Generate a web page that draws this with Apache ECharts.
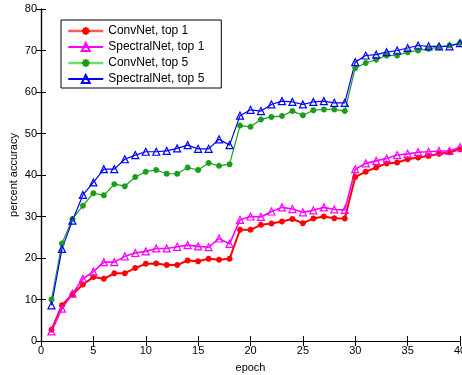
<!DOCTYPE html>
<html>
<head>
<meta charset="utf-8">
<script src="https://cdn.jsdelivr.net/npm/echarts@6/dist/echarts.min.js"></script>
<style>
html,body{margin:0;padding:0;background:#fff;}
#chart{width:462px;height:375px;}
</style>
</head>
<body>
<div id="chart"></div>
<script>
var epochs = [1,2,3,4,5,6,7,8,9,10,11,12,13,14,15,16,17,18,19,20,21,22,23,24,25,26,27,28,29,30,31,32,33,34,35,36,37,38,39,40];
var convTop1 = [2.7,8.6,11.2,13.6,15.4,15.0,16.3,16.3,17.6,18.6,18.7,18.3,18.3,19.4,19.2,19.8,19.6,19.8,26.8,26.8,28.0,28.3,28.8,29.4,28.4,29.5,30.0,29.6,29.5,39.5,40.8,41.8,42.8,43.0,43.8,44.2,44.6,45.1,45.5,46.2];
var spectralTop1 = [2.3,7.8,11.4,15.0,16.7,19.0,19.0,20.4,21.2,21.6,22.3,22.3,22.7,23.1,22.8,22.6,24.7,23.4,29.2,30.0,29.9,31.2,32.2,31.8,31.0,31.5,32.2,31.7,31.6,41.4,42.8,43.4,44.0,44.8,45.1,45.5,45.6,45.8,45.8,46.7];
var convTop5 = [10.0,23.5,29.4,32.6,35.6,35.1,37.8,37.3,39.5,40.8,41.2,40.3,40.3,41.8,41.2,42.9,42.2,42.6,51.9,51.6,53.4,54.0,54.2,55.4,54.4,55.6,55.8,55.8,55.4,65.8,67.0,67.8,68.8,68.8,69.6,70.0,70.4,70.8,71.2,71.8];
var spectralTop5 = [8.6,22.2,29.0,35.2,38.2,41.4,41.4,43.8,44.8,45.6,45.6,45.8,46.4,47.2,46.3,46.3,48.6,47.2,54.3,55.7,55.4,57.0,57.8,57.6,57.0,57.6,57.8,57.4,57.4,67.2,68.8,69.0,69.6,70.0,70.6,71.2,71.0,71.0,71.0,71.8];
var seriesNames = ['ConvNet, top 1','SpectralNet, top 1','ConvNet, top 5','SpectralNet, top 5'];
var xLabel = 'epoch';
var yLabel = 'percent accuracy';

function pairs(vals){ return epochs.map(function(e,i){ return [e, vals[i]]; }); }

var FONT = 'Liberation Sans, Arial, Helvetica, sans-serif';
var star = 'path://M0,-10L0,10M-10,0L10,0M-7,-7L7,7M-7,7L7,-7';

function starSeries(name, vals, color, lw){
  return {
    name: name, type: 'line', data: pairs(vals),
    symbol: star, symbolSize: 6,
    lineStyle: {color: color, width: lw},
    itemStyle: {color: color, borderColor: color, borderWidth: 1.8},
    emphasis: {disabled: true}, animation: false
  };
}
function triSeries(name, vals, color, lw){
  return {
    name: name, type: 'line', data: pairs(vals),
    symbol: 'triangle', symbolSize: 7,
    lineStyle: {color: color, width: lw},
    itemStyle: {color: 'rgba(0,0,0,0)', borderColor: color, borderWidth: 1.2},
    emphasis: {disabled: true}, animation: false
  };
}

var axisCommon = {
  axisLine: {show: true, lineStyle: {color: '#000', width: 1.2}},
  axisTick: {show: true, inside: true, length: 5, lineStyle: {color: '#000', width: 1}},
  splitLine: {show: false}
};

var chart = echarts.init(document.getElementById('chart'), null, {renderer: 'canvas'});
chart.setOption({
  backgroundColor: '#fff',
  animation: false,
  textStyle: {fontFamily: FONT},
  grid: {left: 41, top: 9, right: 2, bottom: 34, containLabel: false, outerBoundsMode: 'none'},
  legend: {
    orient: 'vertical', left: 61, top: 20,
    backgroundColor: '#fff', borderColor: '#000', borderWidth: 1,
    padding: [5, 17, 3, 6], itemGap: 4, itemWidth: 35, itemHeight: 10,
    textStyle: {fontFamily: FONT, fontSize: 12, color: '#000'},
    data: [
      {name: seriesNames[0], lineStyle: {color: '#ff5a5a', width: 2.5}},
      {name: seriesNames[1]},
      {name: seriesNames[2], lineStyle: {color: '#66e066', width: 2.5}},
      {name: seriesNames[3]}
    ]
  },
  xAxis: [
    Object.assign({type: 'value', min: 0, max: 40, interval: 5, position: 'bottom',
      name: xLabel, nameLocation: 'middle', nameGap: 21, nameMoveOverlap: false,
      nameTextStyle: {fontFamily: FONT, fontSize: 11, color: '#000'},
      axisLabel: {fontFamily: FONT, fontSize: 11, color: '#000', margin: 4}}, axisCommon),
    Object.assign({type: 'value', min: 0, max: 40, interval: 5, position: 'top',
      axisLabel: {show: false}}, axisCommon)
  ],
  yAxis: [
    Object.assign({type: 'value', min: 0, max: 80, interval: 10, position: 'left',
      name: yLabel, nameLocation: 'middle', nameGap: 22, nameMoveOverlap: false,
      nameTextStyle: {fontFamily: FONT, fontSize: 11, color: '#000'},
      axisLabel: {fontFamily: FONT, fontSize: 11, color: '#000', margin: 4}}, axisCommon),
    Object.assign({type: 'value', min: 0, max: 80, interval: 10, position: 'right',
      axisLabel: {show: false}}, axisCommon)
  ],
  series: [
    starSeries(seriesNames[0], convTop1, '#ff0000', 2),
    triSeries(seriesNames[1], spectralTop1, '#ff00ff', 1.6),
    starSeries(seriesNames[2], convTop5, '#1a9e1a', 1.2),
    triSeries(seriesNames[3], spectralTop5, '#0000ff', 1.2)
  ]
});
</script>
</body>
</html>
